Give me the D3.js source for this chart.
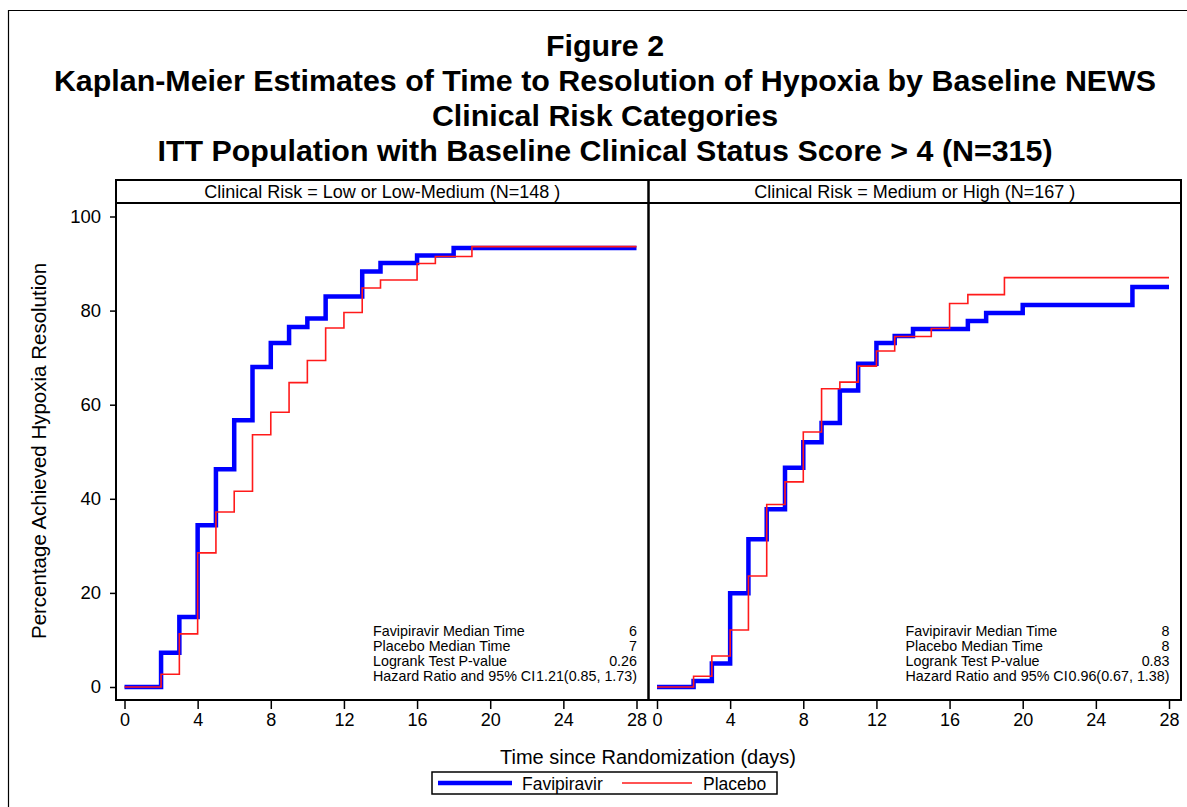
<!DOCTYPE html>
<html>
<head>
<meta charset="utf-8">
<script src="https://cdn.jsdelivr.net/npm/d3@7"></script>
<style>
  body { margin: 0; background: #fff; }
  text { font-family: "Liberation Sans", Arial, sans-serif; fill: #000; }
</style>
</head>
<body>
<svg id="chart" width="1187" height="807"></svg>
<script>
// title lines
var titleLines = [
  "Figure 2",
  "Kaplan-Meier Estimates of Time to Resolution of Hypoxia by Baseline NEWS",
  "Clinical Risk Categories",
  "ITT Population with Baseline Clinical Status Score > 4 (N=315)"
];

var panelHeaders = [
  "Clinical Risk = Low or Low-Medium (N=148 )",
  "Clinical Risk = Medium or High (N=167 )"
];

// step curves (day, percent)
var lowFavDays = [0, 2, 3, 4, 5, 6, 7, 8, 9, 10, 11, 13, 14, 16, 18, 28];
var lowFavPct  = [0, 7.3, 14.9, 34.4, 46.3, 56.7, 68, 73.1, 76.5, 78.3, 83, 88.3, 90.1, 91.7, 93.3, 93.3];

var lowPlaDays = [0, 2, 3, 4, 5, 6, 7, 8, 9, 10, 11, 12, 13, 14, 16, 17, 19, 28];
var lowPlaPct  = [0, 2.7, 11.3, 28.5, 37.2, 41.6, 53.6, 58.4, 64.7, 69.4, 76.3, 79.6, 84.8, 86.5, 90, 91.5, 93.6, 93.6];

var highFavDays = [0, 2, 3, 4, 5, 6, 7, 8, 9, 10, 11, 12, 13, 14, 17, 18, 20, 26, 28];
var highFavPct  = [0, 1.3, 5, 19.9, 31.4, 37.8, 46.6, 52, 56.1, 63, 68.7, 73.1, 74.6, 76.1, 77.8, 79.5, 81.2, 85, 85];

var highPlaDays = [0, 2, 3, 4, 5, 6, 7, 8, 9, 10, 11, 12, 13, 15, 16, 17, 19, 28];
var highPlaPct  = [0, 2.3, 6.6, 12.1, 23.6, 38.8, 43.6, 54.2, 63.4, 64.8, 68.2, 71.4, 74.5, 76.2, 81.5, 83.4, 87, 87];

var statLabels = ["Favipiravir Median Time", "Placebo Median Time", "Logrank Test P-value", "Hazard Ratio and 95% CI"];
var lowStats  = ["6", "7", "0.26", "1.21(0.85, 1.73)"];
var highStats = ["8", "8", "0.83", "0.96(0.67, 1.38)"];

var xTicks = [0, 4, 8, 12, 16, 20, 24, 28];
var yTicks = [0, 20, 40, 60, 80, 100];

var seriesNames = ["Favipiravir", "Placebo"];
var seriesColors = ["#0000ff", "#ff1a1a"];
var seriesWidths = [4.5, 1.6];

function zip(a, b) {
  return a.map(function(d, i) { return [d, b[i]]; });
}

var panels = [
  { header: panelHeaders[0], series: [zip(lowFavDays, lowFavPct), zip(lowPlaDays, lowPlaPct)], stats: lowStats },
  { header: panelHeaders[1], series: [zip(highFavDays, highFavPct), zip(highPlaDays, highPlaPct)], stats: highStats }
];

var svg = d3.select("#chart");

// outer frame
svg.append("path")
  .attr("d", "M8.5,807 L8.5,10.5 L1187,10.5")
  .attr("fill", "none").attr("stroke", "#000").attr("stroke-width", 1.2);

svg.selectAll("text.title")
  .data(titleLines)
  .enter().append("text")
    .attr("class", "title")
    .attr("x", 605)
    .attr("y", function(d, i) { return 56 + i * 35; })
    .attr("text-anchor", "middle")
    .style("font-size", "30.4px")
    .style("font-weight", "bold")
    .text(function(d) { return d; });

var panelX0 = 116, panelW = 532.5, panelTop = 180, headerBottom = 203, axisY = 700;

var y = d3.scaleLinear().domain([0, 100]).range([687, 216.5]);

panels.forEach(function(p, i) {
  var px = panelX0 + i * panelW;
  var x = d3.scaleLinear().domain([0, 28]).range([px + 8.5, px + panelW - 12]);
  var g = svg.append("g");

  // header text
  g.append("text")
    .attr("x", px + panelW / 2)
    .attr("y", 198)
    .attr("text-anchor", "middle")
    .style("font-size", "18px")
    .text(p.header);

  var line = d3.line()
    .x(function(d) { return x(d[0]); })
    .y(function(d) { return y(d[1]); })
    .curve(d3.curveStepAfter);

  p.series.forEach(function(s, k) {
    g.append("path")
      .datum(s)
      .attr("d", line)
      .attr("fill", "none")
      .attr("stroke", seriesColors[k])
      .attr("stroke-width", seriesWidths[k]);
  });

  // stats block
  var sx = px + 257;
  statLabels.forEach(function(lab, r) {
    g.append("text")
      .attr("x", sx).attr("y", 635.5 + r * 15)
      .style("font-size", "14.3px")
      .text(lab);
    g.append("text")
      .attr("x", x(28) + 0.5).attr("y", 635.5 + r * 15)
      .attr("text-anchor", "end")
      .style("font-size", "14.3px")
      .text(p.stats[r]);
  });

  // x axis
  var xa = g.append("g")
    .attr("transform", "translate(0," + axisY + ")")
    .call(d3.axisBottom(x).tickValues(xTicks).tickSize(9).tickPadding(4).tickFormat(d3.format("d")));
  xa.select(".domain").remove();
  xa.selectAll("line").attr("stroke", "#000").attr("stroke-width", 1.5);
  xa.selectAll("text").style("font-size", "18px").style("font-family", "Liberation Sans, Arial, sans-serif");

  if (i === 0) {
    var ya = g.append("g")
      .attr("transform", "translate(" + px + ",0)")
      .call(d3.axisLeft(y).tickValues(yTicks).tickSize(6).tickPadding(9));
    ya.select(".domain").remove();
    ya.selectAll("line").attr("stroke", "#000").attr("stroke-width", 1.5);
    ya.selectAll("text").style("font-size", "18.5px").style("font-family", "Liberation Sans, Arial, sans-serif");
  }

  // panel frame
  g.append("rect")
    .attr("x", px).attr("y", panelTop)
    .attr("width", panelW).attr("height", axisY - panelTop)
    .attr("fill", "none").attr("stroke", "#000").attr("stroke-width", 2);
  g.append("line")
    .attr("x1", px).attr("x2", px + panelW)
    .attr("y1", headerBottom).attr("y2", headerBottom)
    .attr("stroke", "#000").attr("stroke-width", 2);
});

// axis titles
svg.append("text")
  .attr("transform", "translate(46,451) rotate(-90)")
  .attr("text-anchor", "middle")
  .style("font-size", "20.5px")
  .text("Percentage Achieved Hypoxia Resolution");

svg.append("text")
  .attr("x", 648).attr("y", 764)
  .attr("text-anchor", "middle")
  .style("font-size", "20px")
  .text("Time since Randomization (days)");

// legend
var lg = svg.append("g");
lg.append("rect")
  .attr("x", 432).attr("y", 772).attr("width", 345).attr("height", 22)
  .attr("fill", "none").attr("stroke", "#000").attr("stroke-width", 1.5);
var legendLineX = [438, 622], legendTextX = [522, 703], legendLineLen = [74, 70];
seriesNames.forEach(function(n, k) {
  lg.append("line")
    .attr("x1", legendLineX[k]).attr("x2", legendLineX[k] + legendLineLen[k])
    .attr("y1", 783).attr("y2", 783)
    .attr("stroke", seriesColors[k]).attr("stroke-width", seriesWidths[k]);
  lg.append("text")
    .attr("x", legendTextX[k]).attr("y", 789.5)
    .style("font-size", "17.5px")
    .text(n);
});
</script>
</body>
</html>
